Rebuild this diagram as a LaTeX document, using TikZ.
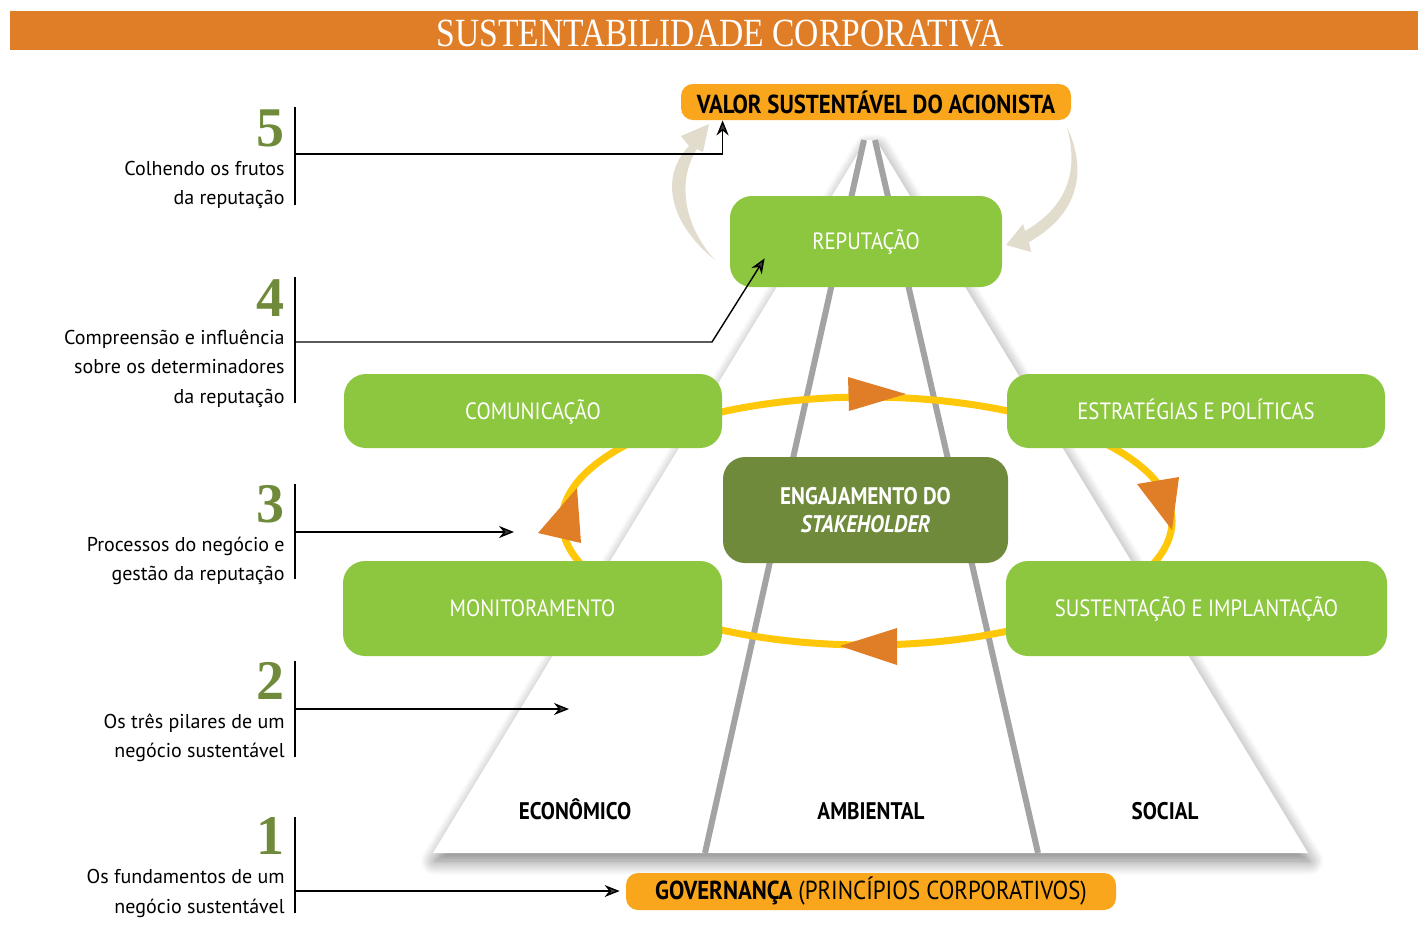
\documentclass[tikz,border=0pt]{standalone}
\usepackage{fontspec}
\usetikzlibrary{arrows.meta,shadows.blur,positioning}

\setmainfont{Liberation Serif}
\newfontfamily\dinfont{PT Sans}
\newfontfamily\dinnarrow[FakeStretch=0.88]{PT Sans}
\newfontfamily\titlefont[FakeStretch=0.84]{Liberation Serif}

\definecolor{titleorange}{RGB}{224,126,39}
\definecolor{boxorange}{RGB}{249,166,28}
\definecolor{boxgreen}{RGB}{141,198,63}
\definecolor{darkgreen}{RGB}{111,138,58}
\definecolor{ringyellow}{RGB}{255,199,9}
\definecolor{beige}{RGB}{226,220,204}
\definecolor{sepgray}{RGB}{163,163,163}

\begin{document}
\begin{tikzpicture}[x=0.5pt, y=-0.5pt,
    greenbox/.style={fill=boxgreen, rounded corners=11pt, text=white, inner sep=0pt,
        text height=8.3pt, text depth=0pt, font=\dinnarrow\fontsize{11.8}{13}\selectfont},
    orangebox/.style={fill=boxorange, rounded corners=6pt, inner sep=0pt,
        font=\dinnarrow\fontsize{13}{15}\selectfont},
    stepnum/.style={anchor=base east, inner sep=0pt, text=darkgreen,
        font=\bfseries\fontsize{28}{28}\selectfont},
    steptext/.style={anchor=base east, inner sep=0pt, font=\dinfont\fontsize{10}{12}\selectfont},
    pillar/.style={anchor=base, inner sep=0pt, font=\dinnarrow\bfseries\fontsize{12}{14}\selectfont},
    bracket/.style={line width=0.7pt},
    pointer/.style={line width=0.7pt, -{Stealth[length=7.5pt, width=6pt]}},
    turn/.style={fill=titleorange},
]

        \useasboundingbox (0,0) rectangle (1418,934);

        % title bar
        \fill[titleorange] (10,11) rectangle (1418,50);
        \node[anchor=base, inner sep=0pt, text=white, font=\titlefont\fontsize{20}{20}\selectfont] (title) at (720,46) {SUSTENTABILIDADE CORPORATIVA};

        % pyramid
        \fill[white, blur shadow={shadow xshift=0.8pt, shadow yshift=-4pt, shadow blur radius=7pt, shadow blur steps=12, shadow opacity=50}]
            (433,853) -- (866,140) -- (876,140) -- (1308,853) -- cycle;
        \draw[sepgray, line width=3pt] (864,140) -- (705,853);
        \draw[sepgray, line width=3pt] (875,140) -- (1038,853);

        \node[pillar] (econ) at (575,819) {ECONÔMICO};
        \node[pillar] (amb) at (871,819) {AMBIENTAL};
        \node[pillar] (soc) at (1165,819) {SOCIAL};

        % ring
        \draw[ringyellow, line width=3.5pt] (867,521) ellipse [x radius=305, y radius=124];
        \fill[turn] (848,377) -- (906,394) -- (849,411) -- cycle;
        \fill[turn] (1137,484) -- (1179,477) -- (1172,530) -- cycle;
        \fill[turn] (897,628) -- (840,646) -- (897,665) -- cycle;
        \fill[turn] (538,533) -- (577,488) -- (581,543) -- cycle;

        % boxes
        \node[orangebox, minimum width=195pt, minimum height=18pt, font=\dinnarrow\bfseries\fontsize{13}{15}\selectfont] (valor) at (876,102) {VALOR SUSTENTÁVEL DO ACIONISTA};
        \node[greenbox, minimum width=136pt, minimum height=45.5pt] (reput) at (866,241.5) {REPUTAÇÃO};
        \node[greenbox, minimum width=189pt, minimum height=37pt] (comun) at (533,411) {COMUNICAÇÃO};
        \node[greenbox, minimum width=189pt, minimum height=37pt] (estrat) at (1196,411) {ESTRATÉGIAS E POLÍTICAS};
        \node[greenbox, minimum width=189.5pt, minimum height=47.5pt] (monit) at (532.5,608.5) {MONITORAMENTO};
        \node[greenbox, minimum width=190.5pt, minimum height=47.5pt] (susten) at (1196.5,608.5) {SUSTENTAÇÃO E IMPLANTAÇÃO};
        \node[fill=darkgreen, rounded corners=11pt, text=white, inner sep=0pt, minimum width=142.5pt, minimum height=53pt, align=center,
            font=\dinnarrow\bfseries\fontsize{12}{14}\selectfont] (engaj) at (865.5,510) {ENGAJAMENTO DO\\\textit{STAKEHOLDER}};
        \node[orangebox, minimum width=245pt, minimum height=18.5pt] (gov) at (871,891.5) {\bfseries GOVERNANÇA \mdseries(PRINCÍPIOS CORPORATIVOS)};

        % feedback arrows
        \fill[beige] (715,260) .. controls (668,222) and (660,176) .. (689,146) -- (681,136) -- (709,124) -- (703,152) -- (697,149)
            .. controls (677,180) and (683,225) .. (715,260) -- cycle;
        \fill[beige] (1067,127) .. controls (1086,168) and (1082,212) .. (1029,242) -- (1031,252) -- (1006,245) -- (1023,224) -- (1025,231)
            .. controls (1070,205) and (1078,168) .. (1067,127) -- cycle;

        % steps
        \node[stepnum] (n5) at (285,146) {5};
        \node[steptext] (t5a) at (285,175) {Colhendo os frutos};
        \node[steptext] (t5b) at (285,204) {da reputação};
        \node[stepnum] (n4) at (285,316) {4};
        \node[steptext] (t4a) at (285,344) {Compreensão e influência};
        \node[steptext] (t4b) at (285,373) {sobre os determinadores};
        \node[steptext] (t4c) at (285,403) {da reputação};
        \node[stepnum] (n3) at (285,522) {3};
        \node[steptext] (t3a) at (285,551) {Processos do negócio e};
        \node[steptext] (t3b) at (285,580) {gestão da reputação};
        \node[stepnum] (n2) at (285,699) {2};
        \node[steptext] (t2a) at (285,728) {Os três pilares de um};
        \node[steptext] (t2b) at (285,757) {negócio sustentável};
        \node[stepnum] (n1) at (285,854) {1};
        \node[steptext] (t1a) at (285,883) {Os fundamentos de um};
        \node[steptext] (t1b) at (285,913) {negócio sustentável};

        \draw[bracket] (295,107) -- (295,205);
        \draw[bracket] (295,277) -- (295,403);
        \draw[bracket] (295,484) -- (295,579);
        \draw[bracket] (295,661) -- (295,757);
        \draw[bracket] (295,817) -- (295,913);

        \coordinate (s5) at (295,154);
        \coordinate (s4) at (295,342);
        \coordinate (s3) at (295,532);
        \coordinate (s2) at (295,709);
        \coordinate (s1) at (295,891);
        \coordinate (e3) at (514,532);
        \coordinate (e2) at (569,709);
        \coordinate (k4) at (712,342);
        \coordinate (r4) at ([xshift=17.5pt, yshift=14.5pt]reput.south west);

        \draw[pointer] (s5) -| ([xshift=21pt]valor.south west);
        \draw[pointer] (s4) -- (k4) -- (r4);
        \draw[pointer] (s3) -- (e3);
        \draw[pointer] (s2) -- (e2);
        \draw[pointer, shorten >=3pt] (s1) -- (s1 -| gov.west);

\end{tikzpicture}
\end{document}
